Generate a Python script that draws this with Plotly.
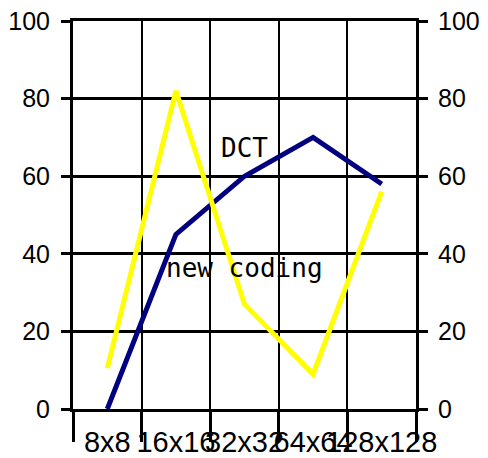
import plotly.graph_objects as go

categories = ["8x8", "16x16", "32x32", "64x64", "128x128"]
dct_values = [0, 45, 60, 70, 58]
new_coding_values = [10.5, 82, 27, 9, 56]
y_ticks = [0, 20, 40, 60, 80, 100]

fig = go.Figure()
fig.add_trace(go.Scatter(x=categories, y=dct_values, mode="lines", name="DCT",
                         line=dict(color="#000080", width=5), showlegend=False))
fig.add_trace(go.Scatter(x=categories, y=new_coding_values, mode="lines", name="new coding",
                         line=dict(color="#FFFF00", width=5), showlegend=False, yaxis="y2"))

x_font = dict(family="Liberation Sans, Arial", size=29, color="black")
y_font = dict(family="Liberation Sans, Arial", size=25, color="black")

fig.update_layout(
    width=488, height=458,
    margin=dict(l=65, r=80, t=13, b=57),
    paper_bgcolor="white", plot_bgcolor="white",
    xaxis=dict(type="category", range=[-0.5, 4.5], tickson="boundaries",
               showgrid=True, gridcolor="black", gridwidth=2,
               showline=True, linecolor="black", linewidth=3, mirror=True,
               ticks="outside", ticklen=30, tickwidth=3, tickcolor="black",
               tickangle=0, automargin=False, ticklabeloverflow="allow",
               ticklabelstandoff=5, tickfont=x_font, zeroline=False),
    yaxis=dict(range=[0, 100], tickvals=y_ticks, showgrid=True, gridcolor="black", gridwidth=3,
               showline=True, linecolor="black", linewidth=3, automargin=False,
               ticks="outside", ticklen=9, tickwidth=3, tickcolor="black",
               ticklabeloverflow="allow",
               ticklabelstandoff=6, tickfont=y_font, zeroline=False),
    yaxis2=dict(range=[0, 100], tickvals=y_ticks, overlaying="y", side="right", showgrid=False,
                showline=True, linecolor="black", linewidth=3, automargin=False,
                ticks="outside", ticklen=9, tickwidth=3, tickcolor="black",
                ticklabeloverflow="allow",
                ticklabelstandoff=5, tickfont=y_font, zeroline=False),
    annotations=[
        dict(x="32x32", y=67.3, text="DCT", showarrow=False,
             font=dict(family="DejaVu Sans Mono", size=26, color="black")),
        dict(x="32x32", y=36.3, text="new coding", showarrow=False,
             font=dict(family="DejaVu Sans Mono", size=26, color="black")),
    ],
)

fig.write_html("out.html")
